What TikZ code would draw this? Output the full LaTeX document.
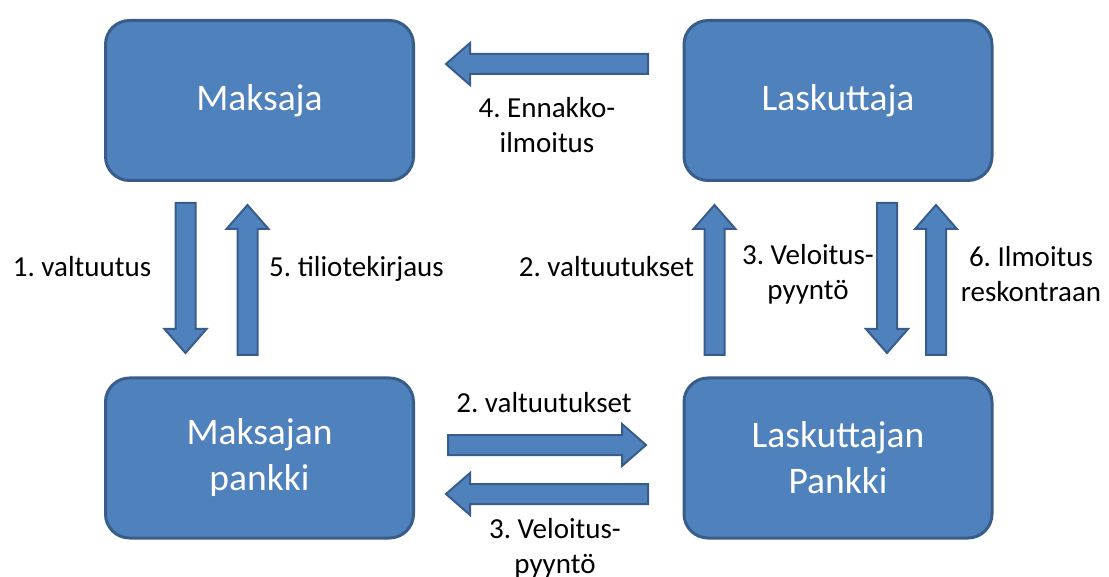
\documentclass[tikz,border=0pt]{standalone}
\usepackage{fontspec}
\setmainfont{Carlito}
\usetikzlibrary{calc}
\frenchspacing
\definecolor{boxfill}{HTML}{4F81BD}
\definecolor{boxline}{HTML}{385D8A}
\tikzset{
  party/.style={draw=boxline, fill=boxfill, line width=3pt, rounded corners=24pt,
    minimum width=308pt, minimum height=160pt, text=white, align=center,
    font=\fontsize{37.5}{46}\selectfont\frenchspacing, inner sep=0pt, outer sep=0pt},
  lbl/.style={anchor=base, align=center, font=\fontsize{29}{35}\selectfont\frenchspacing,
    inner sep=0pt, text=black},
  barrow/.style={draw=boxline, fill=boxfill, line width=2pt, line join=miter},
}
\newcommand\blockarrow[2]{%
  \coordinate (ba-t) at (#1);
  \coordinate (ba-h) at (#2);
  \coordinate (ba-b) at ($(ba-h)!24pt!(ba-t)$);
  \draw[barrow] ($(ba-t)!10pt!90:(ba-h)$) -- ($(ba-b)!10pt!90:(ba-h)$)
    -- ($(ba-b)!21pt!90:(ba-h)$) -- (ba-h) -- ($(ba-b)!21pt!-90:(ba-h)$)
    -- ($(ba-b)!10pt!-90:(ba-h)$) -- ($(ba-t)!10pt!-90:(ba-h)$) -- cycle;
}
\begin{document}
\begin{tikzpicture}[x=1pt,y=-1pt]
\useasboundingbox (0,0) rectangle (1109,577);

\node[party] (maksaja) at (259.5,100.5) {\raisebox{-3pt}{Maksaja}};
\node[party] (laskuttaja) at (838,100.5) {\raisebox{-3pt}{Laskuttaja}};
\node[party] (mpankki) at (259.5,458) {Maksajan\\pankki};
\node[party] (lpankki) at (838,458) {Laskuttajan\\Pankki};

% top: Laskuttaja -> Maksaja
\blockarrow{$(laskuttaja.west)+(-36,-36.5)$}{$(maksaja.east)+(32.5,-36.5)$}
% left column
\blockarrow{$(maksaja.south)+(-74,22.5)$}{$(mpankki.north)+(-74,-25)$}
\blockarrow{$(mpankki.north)+(-12,-23)$}{$(maksaja.south)+(-12,24.5)$}
% right column
\blockarrow{$(lpankki.north)+(-123.5,-23)$}{$(laskuttaja.south)+(-123.5,24.5)$}
\blockarrow{$(laskuttaja.south)+(49,22.5)$}{$(lpankki.north)+(49,-25)$}
\blockarrow{$(lpankki.north)+(98,-23)$}{$(laskuttaja.south)+(98,24.5)$}
% bottom row
\blockarrow{$(mpankki.east)+(34.5,-13)$}{$(lpankki.west)+(-38,-13)$}
\blockarrow{$(lpankki.west)+(-36,36)$}{$(mpankki.east)+(32.5,36)$}

\node[lbl] (l4) at (547,153) {4. Ennakko-\\ilmoitus};
\node[lbl] (l1) at (82,277) {1. valtuutus};
\node[lbl] (l5) at (356.5,277) {5. tiliotekirjaus};
\node[lbl] (l2r) at (606.5,277) {2. valtuutukset};
\node[lbl] (l3r) at (808,300) {3. Veloitus-\\pyyntö};
\node[lbl] (l6) at (1031,302) {6. Ilmoitus\\reskontraan};
\node[lbl] (l2b) at (544,413) {2. valtuutukset};
\node[lbl] (l3b) at (555,573) {3. Veloitus-\\pyyntö};
\end{tikzpicture}
\end{document}
